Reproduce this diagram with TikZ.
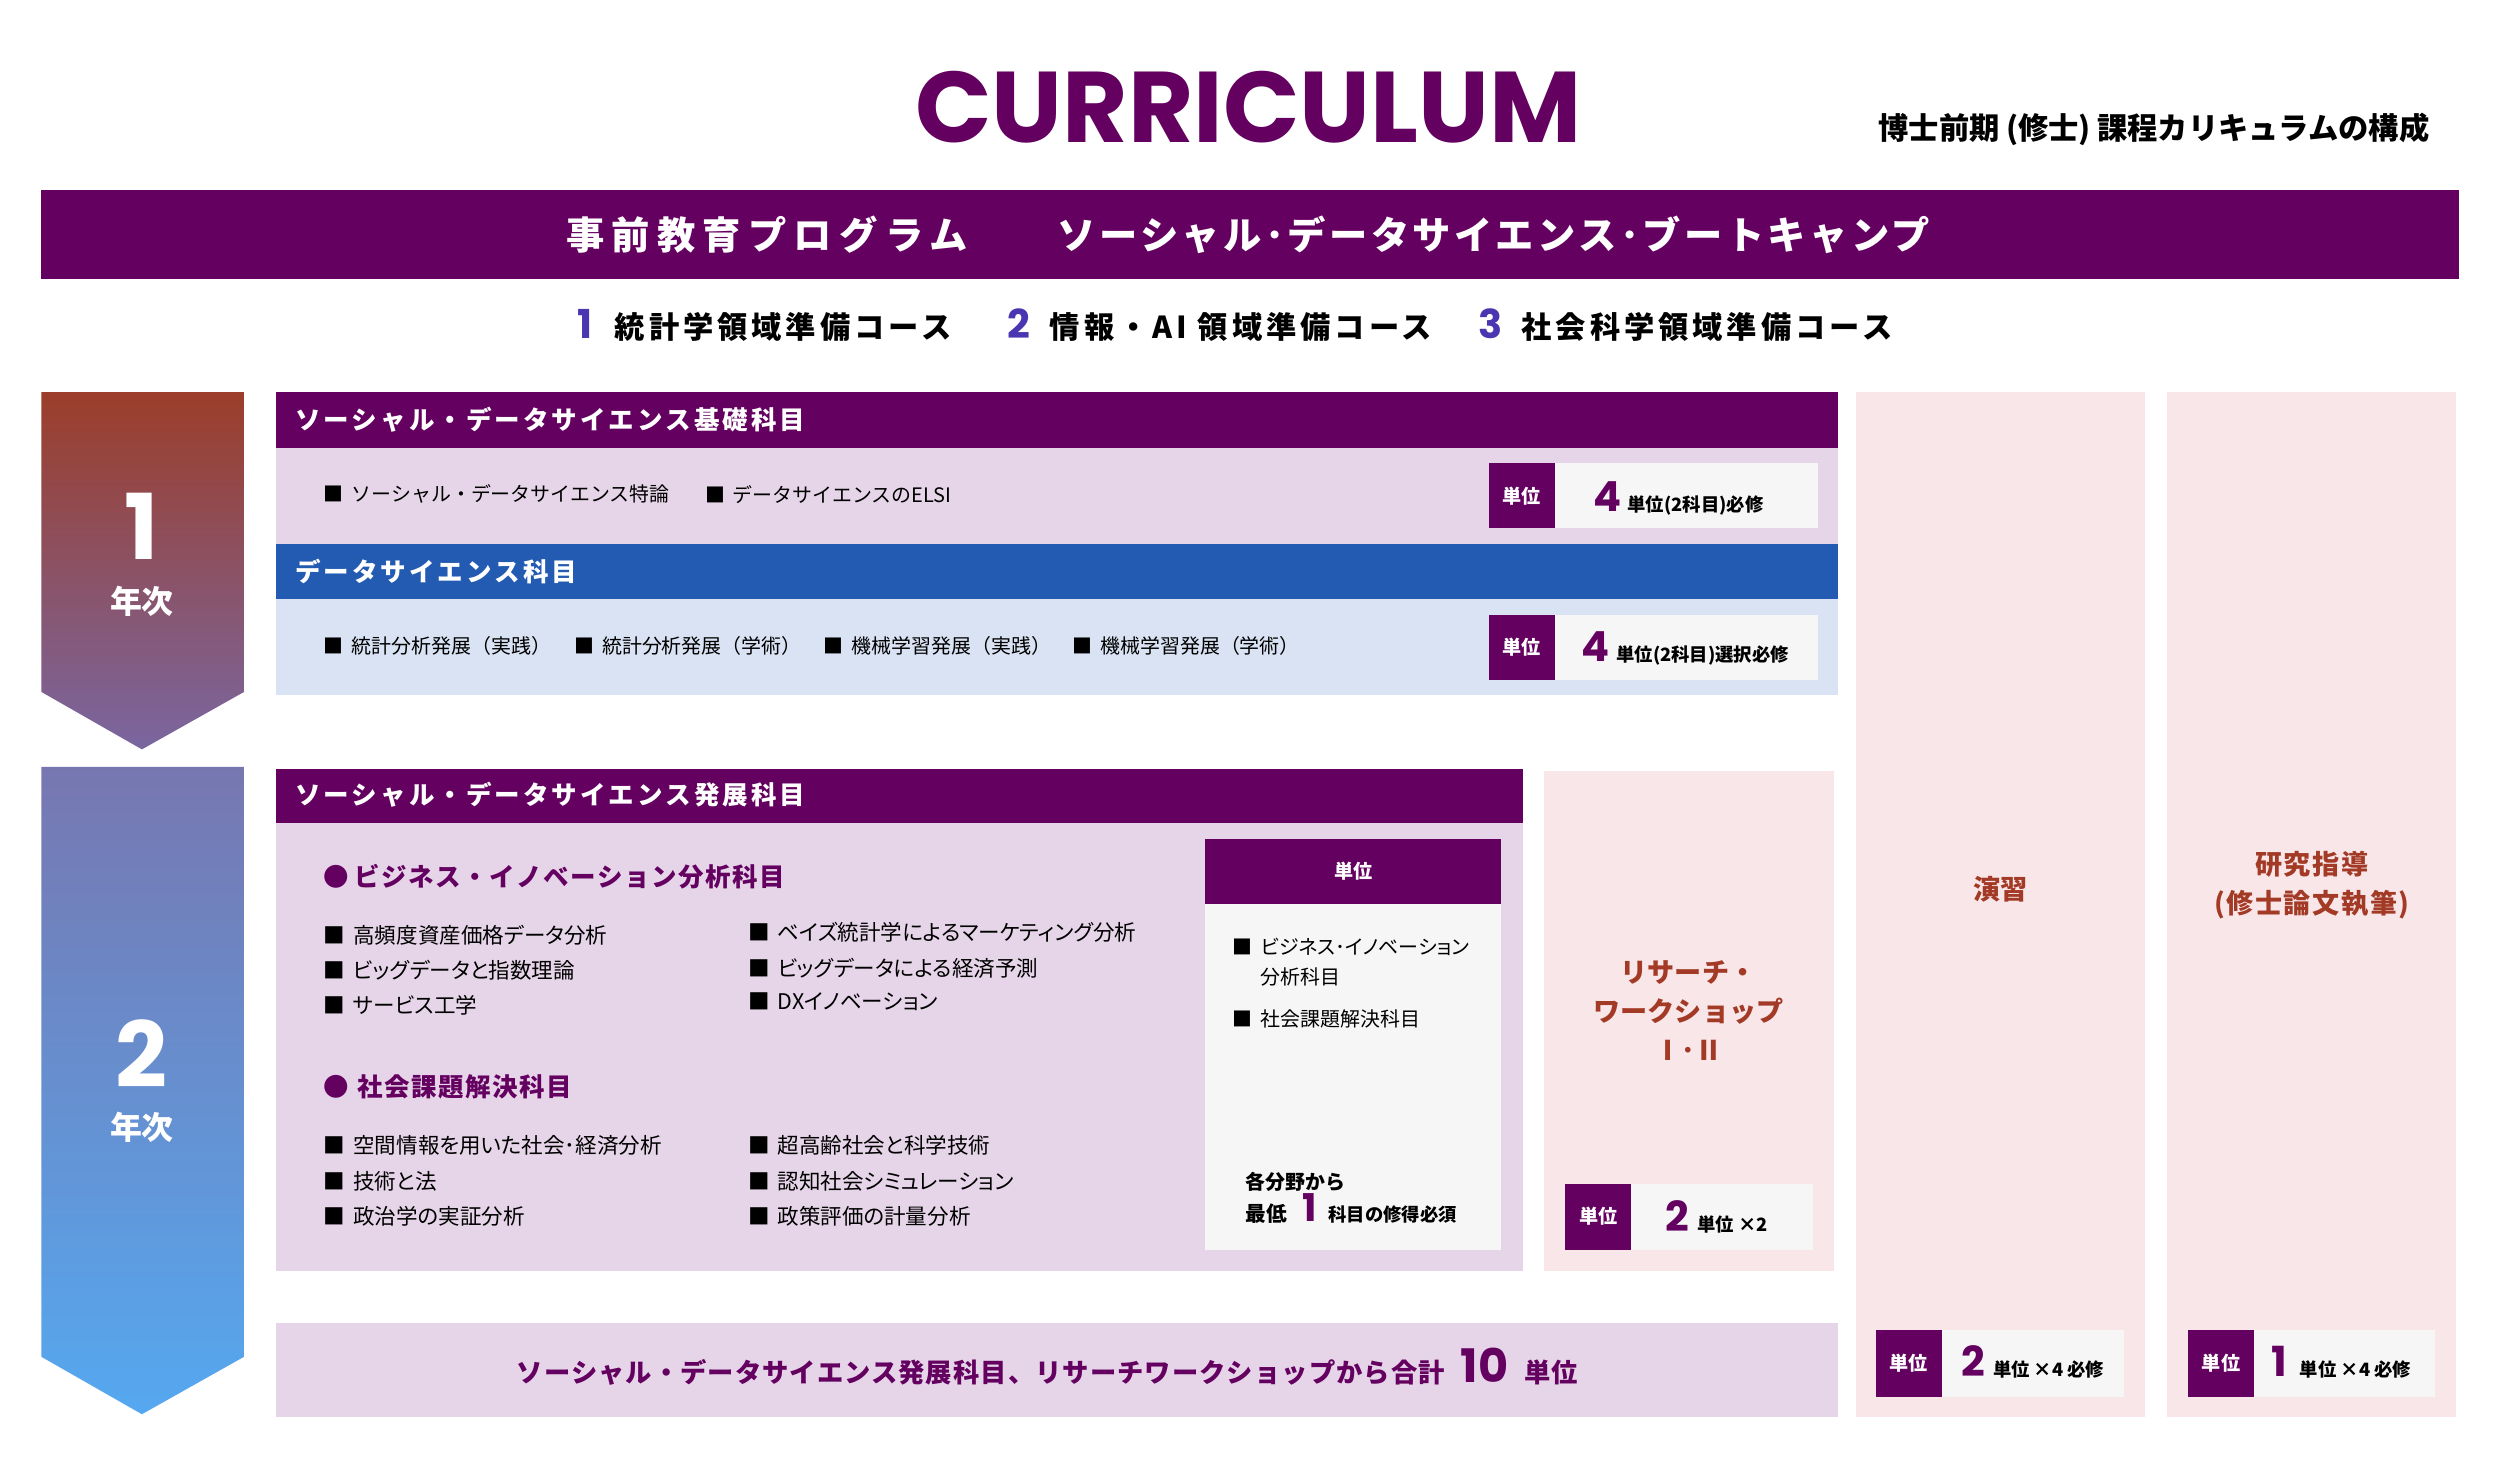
\documentclass[tikz,border=0pt]{standalone}
\usepackage{fontspec}
\usepackage{graphicx}
\setmainfont{Noto Sans CJK JP}
\newfontfamily\latnfont{Poppins}
\newfontfamily\jpprop[RawFeature=+palt]{Noto Sans CJK JP}
\newfontfamily\jpwide[LetterSpace=12]{Noto Sans CJK JP}
\newfontfamily\jpbannera[LetterSpace=19]{Noto Sans CJK JP}
\newfontfamily\jpbannerb[LetterSpace=9]{Noto Sans CJK JP}
\newfontfamily\jpcourse[LetterSpace=13]{Noto Sans CJK JP}
\newfontfamily\jpmid[LetterSpace=6]{Noto Sans CJK JP}
\newfontfamily\jptotal[LetterSpace=4]{Noto Sans CJK JP}
\usetikzlibrary{positioning}

\definecolor{curpurple}{HTML}{640060}
\definecolor{lilac}{HTML}{E6D5E8}
\definecolor{dsblue}{HTML}{235AB2}
\definecolor{paleblue}{HTML}{DAE3F3}
\definecolor{palepink}{HTML}{F9E6E9}
\definecolor{offwhite}{HTML}{F6F6F6}
\definecolor{brick}{HTML}{A33A26}
\definecolor{coursenum}{HTML}{4A36B0}
\definecolor{yronetop}{HTML}{9C3E2A}
\definecolor{yronebot}{HTML}{7A66A0}
\definecolor{yrtwotop}{HTML}{7777B0}
\definecolor{yrtwobot}{HTML}{55A8F0}

\newcommand{\sqmark}{■\hspace{5pt}}
\newcommand{\unitdigit}[1]{{\latnfont\bfseries\fontsize{26}{26}\selectfont\textcolor{curpurple}{#1}}}
\newcommand{\coursedigit}[1]{{\latnfont\bfseries\fontsize{25}{25}\selectfont\textcolor{coursenum}{#1}}}

\tikzset{
  heading/.style={anchor=west, inner sep=0, text=white, font=\jpwide\bfseries\fontsize{16}{16}\selectfont},
  smallitem/.style={anchor=west, inner sep=0, font=\fontsize{12.5}{12.5}\selectfont},
  subitem/.style={anchor=west, inner sep=0, font=\jpprop\fontsize{13.5}{13.5}\selectfont},
  subhead/.style={anchor=west, inner sep=0, text=curpurple, font=\jpmid\bfseries\fontsize{16}{16}\selectfont},
  unitlbl/.style={inner sep=0, text=white, font=\bfseries\fontsize{12}{12}\selectfont},
  unitval/.style={anchor=base west, inner sep=0, font=\bfseries\fontsize{11.5}{11.5}\selectfont},
  coltext/.style={inner sep=0, text=brick, align=center, font=\bfseries\fontsize{17}{24.5}\selectfont},
  yeartext/.style={inner sep=0, text height=15pt, text depth=2pt, text=white, font=\bfseries\fontsize{20}{20}\selectfont},
  yearnum/.style={inner sep=0, text height=40pt, text depth=0pt, text=white, font=\latnfont\bfseries\fontsize{57}{57}\selectfont},
  coursetext/.style={anchor=west, inner sep=0, font=\jpcourse\bfseries\fontsize{19}{19}\selectfont},
}

\begin{document}
\begin{tikzpicture}[x=1pt, y=-1pt]
\useasboundingbox[fill=white] (0,0) rectangle (1568,914.5);

% Title
\node[inner sep=0, text=curpurple, font=\latnfont\bfseries\fontsize{63}{63}\selectfont] (title) at (783,67) {CURRICULUM};
\node[anchor=east, inner sep=0, font=\bfseries\fontsize{19}{19}\selectfont] (subtitle) at (1524,81) {博士前期\hspace{4pt}(修士)\hspace{4pt}課程カリキュラムの構成};

% Pre-education banner
\fill[curpurple] (26,119) rectangle (1542,175);
\node[anchor=west, inner sep=0, text=white, font=\jpbannera\bfseries\fontsize{24}{24}\selectfont] (bannerl) at (355,147) {事前教育プログラム};
\node[anchor=west, inner sep=0, text=white, font=\jpbannerb\bfseries\fontsize{24}{24}\selectfont] (bannerr) at (663,147) {ソーシャル･データサイエンス･ブートキャンプ};

% Preparation courses
\node[coursetext] (prep1) at (362,204) {\coursedigit{1}\hspace{14pt}統計学領域準備コース};
\node[coursetext] (prep2) at (632,204) {\coursedigit{2}\hspace{12pt}情報・AI 領域準備コース};
\node[coursetext] (prep3) at (927,204) {\coursedigit{3}\hspace{12pt}社会科学領域準備コース};

% Year arrows
\shade[top color=yronetop, bottom color=yronebot] (26,246) -- (153,246) -- (153,434) -- (89,470) -- (26,434) -- cycle;
\node[yearnum] (yr1) at (89,331) {1};
\node[yeartext] (yr1txt) at (89,378) {年次};
\shade[top color=yrtwotop, bottom color=yrtwobot] (26,481) -- (153,481) -- (153,851) -- (89,887) -- (26,851) -- cycle;
\node[yearnum] (yr2) at (89,662) {2};
\node[yeartext] (yr2txt) at (89,708) {年次};

% Basic subjects
\fill[curpurple] (173,246) rectangle (1153,281);
\fill[lilac] (173,281) rectangle (1153,341);
\node[heading] (basichd) at (185,263.5) {ソーシャル・データサイエンス基礎科目};
\node[smallitem] (basic1) at (203,310) {\sqmark ソーシャル・データサイエンス特論};
\node[smallitem] (basic2) at (442,310) {\sqmark データサイエンスのELSI};
\fill[curpurple] (934,290.5) rectangle (975.5,331);
\fill[offwhite] (975.5,290.5) rectangle (1140,331);
\node[unitlbl] (basicul) at (954.5,311) {単位};
\node[unitval] (basicuv) at (999,321) {\unitdigit{4}\hspace{4pt}単位(2科目)必修};

% Data science subjects
\fill[dsblue] (173,341) rectangle (1153,376);
\fill[paleblue] (173,376) rectangle (1153,436);
\node[heading] (dshd) at (185,358.5) {データサイエンス科目};
\node[smallitem] (ds1) at (203,405) {\sqmark 統計分析発展（実践）};
\node[smallitem] (ds2) at (360,405) {\sqmark 統計分析発展（学術）};
\node[smallitem] (ds3) at (516.5,405) {\sqmark 機械学習発展（実践）};
\node[smallitem] (ds4) at (672.5,405) {\sqmark 機械学習発展（学術）};
\fill[curpurple] (934,385.5) rectangle (975.5,426.5);
\fill[offwhite] (975.5,385.5) rectangle (1140,426.5);
\node[unitlbl] (dsul) at (954.5,406) {単位};
\node[unitval] (dsuv) at (992,415) {\unitdigit{4}\hspace{4pt}単位(2科目)選択必修};

% Exercise and research guidance columns
\fill[palepink] (1164,246) rectangle (1345.5,888.5);
\node[coltext] (exer) at (1254.5,558) {演習};
\fill[curpurple] (1176.5,834) rectangle (1218,876);
\fill[offwhite] (1218,834) rectangle (1332,876);
\node[unitlbl] (exerul) at (1197,855) {単位};
\node[unitval] (exeruv) at (1230,863.5) {\unitdigit{2}\hspace{5pt}単位 ×4 必修};

\fill[palepink] (1359,246) rectangle (1540.5,888.5);
\node[coltext, font=\jpmid\bfseries\fontsize{17}{24.5}\selectfont] (guide) at (1450,555) {研究指導\\(修士論文執筆)};
\fill[curpurple] (1372,834) rectangle (1413.5,876);
\fill[offwhite] (1413.5,834) rectangle (1527.5,876);
\node[unitlbl] (guideul) at (1393,855) {単位};
\node[unitval] (guideuv) at (1424.5,863.5) {\unitdigit{1}\hspace{8pt}単位 ×4 必修};

% Advanced subjects
\fill[curpurple] (173,482) rectangle (955,516);
\fill[lilac] (173,516) rectangle (955,797);
\node[heading] (advhd) at (185,498.5) {ソーシャル・データサイエンス発展科目};

\node[subhead] (bizhd) at (203,550) {●\hspace{3pt}ビジネス・イノベーション分析科目};
\node[subitem] (biz1) at (203,586.5) {\sqmark 高頻度資産価格データ分析};
\node[subitem] (biz2) at (203,608.5) {\sqmark ビッグデータと指数理論};
\node[subitem] (biz3) at (203,630.5) {\sqmark サービス工学};
\node[subitem] (biz4) at (469,585) {\sqmark ベイズ統計学によるマーケティング分析};
\node[subitem] (biz5) at (469,607) {\sqmark ビッグデータによる経済予測};
\node[subitem] (biz6) at (469,628.5) {\sqmark DXイノベーション};

\node[subhead] (sochd) at (203,682) {●\hspace{5pt}社会課題解決科目};
\node[subitem] (soc1) at (203,718.5) {\sqmark 空間情報を用いた社会･経済分析};
\node[subitem] (soc2) at (203,741) {\sqmark 技術と法};
\node[subitem] (soc3) at (203,763) {\sqmark 政治学の実証分析};
\node[subitem] (soc4) at (469,718.5) {\sqmark 超高齢社会と科学技術};
\node[subitem] (soc5) at (469,741) {\sqmark 認知社会シミュレーション};
\node[subitem] (soc6) at (469,763) {\sqmark 政策評価の計量分析};

% Unit rule for advanced subjects
\fill[curpurple] (755.5,526) rectangle (941.5,567);
\fill[offwhite] (755.5,567) rectangle (941.5,784);
\node[unitlbl] (advul) at (849,546.5) {単位};
\node[subitem, font=\jpprop\fontsize{12.5}{12.5}\selectfont] (adv1) at (773,594) {\sqmark ビジネス･イノベーション};
\node[subitem, font=\jpprop\fontsize{12.5}{12.5}\selectfont] (adv2) at (790.5,612.5) {分析科目};
\node[subitem, font=\jpprop\fontsize{12.5}{12.5}\selectfont] (adv3) at (773,639) {\sqmark 社会課題解決科目};
\node[anchor=west, inner sep=0, font=\bfseries\fontsize{12.5}{12.5}\selectfont] (adv4) at (781,741) {各分野から};
\node[anchor=base west, inner sep=0, font=\bfseries\fontsize{13}{13}\selectfont] (adv5) at (781,766) {最低\hspace{10pt}{\latnfont\fontsize{24}{24}\selectfont\textcolor{curpurple}{1}}\hspace{7pt}{\fontsize{11.5}{11.5}\selectfont 科目の修得必須}};

% Research workshop
\fill[palepink] (968.5,483.5) rectangle (1150.5,797);
\node[coltext] (rws) at (1059,634) {リサーチ・\\ワークショップ\\Ⅰ･Ⅱ};
\fill[curpurple] (981.5,742.5) rectangle (1023,784);
\fill[offwhite] (1023,742.5) rectangle (1137,784);
\node[unitlbl] (rwsul) at (1002.5,763) {単位};
\node[unitval] (rwsuv) at (1044.5,772.5) {\unitdigit{2}\hspace{5pt}単位 ×2};

% Total credits
\fill[lilac] (173,830) rectangle (1153,889);
\node[anchor=base west, inner sep=0, text=curpurple, font=\jptotal\bfseries\fontsize{16.5}{16.5}\selectfont] (total) at (324,867) {ソーシャル・データサイエンス発展科目、リサーチワークショップから合計\hspace{10pt}{\latnfont\fontsize{29}{29}\selectfont 10}\hspace{10pt}単位};

\end{tikzpicture}
\end{document}
